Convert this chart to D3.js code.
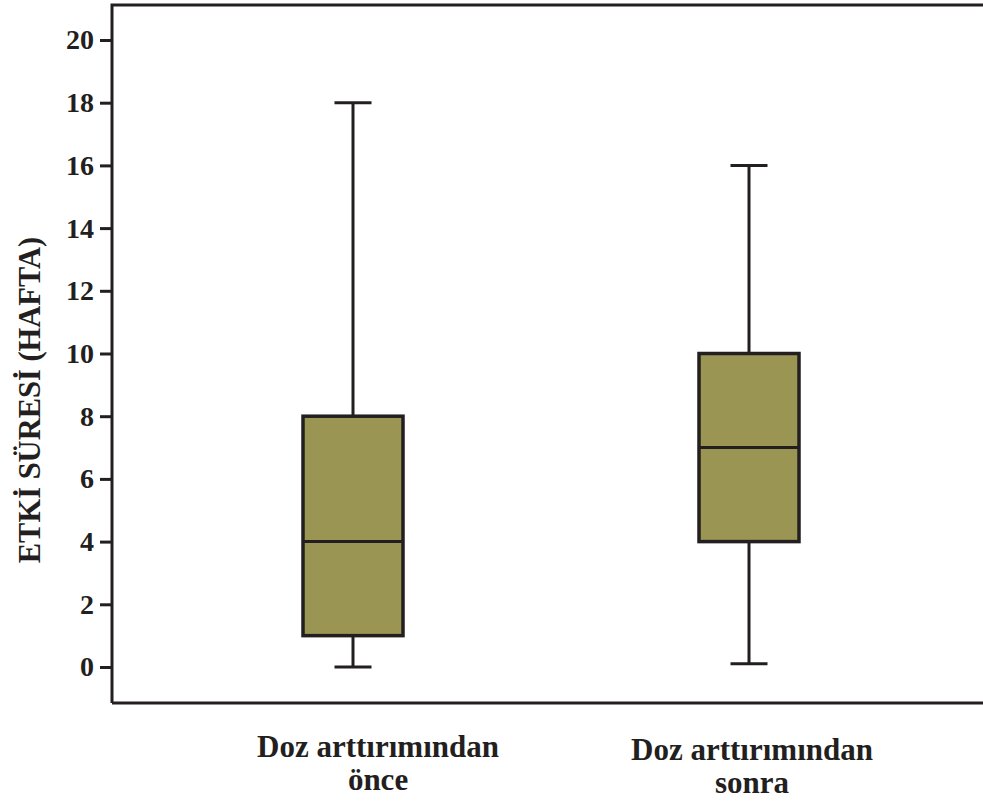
<!DOCTYPE html>
<html>
<head>
<meta charset="utf-8">
<script src="https://cdn.jsdelivr.net/npm/d3@7"></script>
<style>
  body { margin: 0; background: #fff; }
  svg text { font-family: 'Liberation Serif', 'DejaVu Serif', serif; font-weight: 700; fill: #231f20; }
</style>
</head>
<body>
<svg id="chart" width="983" height="802"></svg>
<script>
"use strict"

// groups and their box plot summaries
const groups = ["Doz arttırımından önce", "Doz arttırımından sonra"];
const labelLines = [["Doz arttırımından", "önce"], ["Doz arttırımından", "sonra"]];
const mins = [0, 0.1];
const q1s = [1, 4];
const medians = [4, 7];
const q3s = [8, 10];
const maxs = [18, 16];
const yTicks = [0, 2, 4, 6, 8, 10, 12, 14, 16, 18, 20];

const svg = d3.select("#chart");
const ink = "#231f20";
const fillColor = "#9a9553";

const frameLeft = 112, frameTop = 5, frameBottom = 703;

const y = d3.scaleLinear().domain([0, 20]).range([667, 40]);
const x = d3.scaleBand().domain(groups).range([155, 947]);

const boxW = 100, capW = 37;

// frame (left, top, bottom; the right edge runs off the picture)
svg.append("path")
    .attr("d", `M${frameLeft},${frameBottom} L${frameLeft},${frameTop} L990,${frameTop} M${frameLeft},${frameBottom} L990,${frameBottom}`)
    .attr("fill", "none")
    .attr("stroke", ink)
    .attr("stroke-width", 3);

// y axis
const yAxis = svg.append("g")
    .attr("transform", `translate(${frameLeft},0)`)
    .call(d3.axisLeft(y).tickValues(yTicks).tickSize(12).tickPadding(6));
yAxis.attr("font-family", null).attr("font-size", null);
yAxis.select(".domain").remove();
yAxis.selectAll(".tick line").attr("stroke", ink).attr("stroke-width", 3);
yAxis.selectAll(".tick text")
    .attr("font-size", 28)
    .attr("fill", ink);

svg.append("text")
    .attr("transform", `translate(40,400) rotate(-90)`)
    .attr("text-anchor", "middle")
    .attr("font-size", 30.5)
    .text("ETKİ SÜRESİ (HAFTA)");

// boxes
const data = groups.map((g, i) => ({
    g, min: mins[i], q1: q1s[i], med: medians[i], q3: q3s[i], max: maxs[i]
}));

const box = svg.selectAll(".box")
    .data(data)
    .enter().append("g")
    .attr("class", "box")
    .attr("transform", d => `translate(${x(d.g) + x.bandwidth() / 2},0)`);

box.append("line")
    .attr("x1", 0).attr("x2", 0)
    .attr("y1", d => y(d.min)).attr("y2", d => y(d.max))
    .attr("stroke", ink).attr("stroke-width", 3);

box.append("line")
    .attr("x1", -capW / 2).attr("x2", capW / 2)
    .attr("y1", d => y(d.max)).attr("y2", d => y(d.max))
    .attr("stroke", ink).attr("stroke-width", 3);

box.append("line")
    .attr("x1", -capW / 2).attr("x2", capW / 2)
    .attr("y1", d => y(d.min)).attr("y2", d => y(d.min))
    .attr("stroke", ink).attr("stroke-width", 3);

box.append("rect")
    .attr("x", -boxW / 2)
    .attr("width", boxW)
    .attr("y", d => y(d.q3))
    .attr("height", d => y(d.q1) - y(d.q3))
    .attr("fill", fillColor)
    .attr("stroke", ink).attr("stroke-width", 3.5);

box.append("line")
    .attr("x1", -boxW / 2).attr("x2", boxW / 2)
    .attr("y1", d => y(d.med)).attr("y2", d => y(d.med))
    .attr("stroke", ink).attr("stroke-width", 3);

// category labels
const labelShift = [25, 3];
const labelDrop = [757, 760];
svg.selectAll(".xlab")
    .data(groups)
    .enter().append("text")
    .attr("class", "xlab")
    .attr("text-anchor", "middle")
    .attr("font-size", 31)
    .attr("transform", (g, i) => `translate(${x(g) + x.bandwidth() / 2 + labelShift[i]},${labelDrop[i]})`)
    .selectAll("tspan")
    .data((g, i) => labelLines[i])
    .enter().append("tspan")
    .attr("x", 0)
    .attr("dy", (d, j) => j === 0 ? 0 : 33)
    .text(d => d);
</script>
</body>
</html>
